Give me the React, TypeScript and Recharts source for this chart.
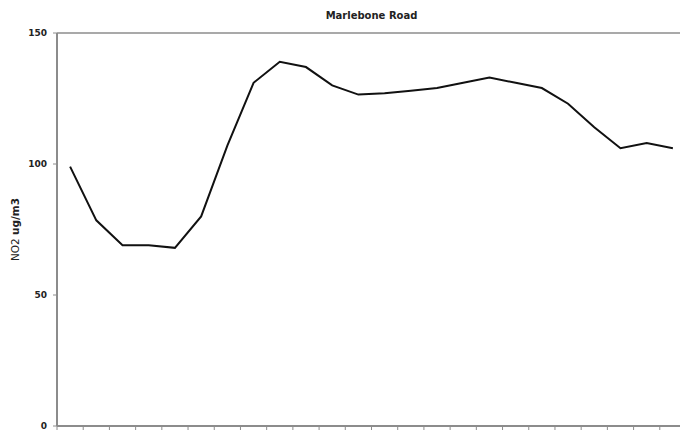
import React from 'react';
import { LineChart, Line, XAxis, YAxis, ReferenceLine } from 'recharts';

const hours = [0, 1, 2, 3, 4, 5, 6, 7, 8, 9, 10, 11, 12, 13, 14, 15, 16, 17, 18, 19, 20, 21, 22, 23];
const no2 = [99, 78.5, 69, 69, 68, 80, 107, 131, 139, 137, 130, 126.5, 127, 128, 129, 131, 133, 131, 129, 123, 114, 106, 108, 106];
const yTicks = [0, 50, 100, 150];
const title = 'Marlebone Road';

const data = hours.map((h, i) => ({ hour: h, no2: no2[i] }));
const xBoundaries = [...hours.map((h) => h - 0.5), hours[hours.length - 1] + 0.5];

const font = '"DejaVu Sans", Verdana, sans-serif';

const YLabel = (props: any) => {
  const vb = props.viewBox || { x: 0, y: 33, width: 57, height: 393 };
  const cy = vb.y + vb.height / 2;
  const cx = 15;
  return (
    <text
      x={cx}
      y={cy}
      transform={`rotate(-90 ${cx} ${cy})`}
      textAnchor="middle"
      dominantBaseline="central"
      fontFamily={font}
      fontSize={10.5}
      fill="#222"
    >
      <tspan>NO2 </tspan>
      <tspan fontWeight="bold">ug/m3</tspan>
    </text>
  );
};

export default function App() {
  return (
    <div
      style={{
        position: 'absolute',
        left: 0,
        top: 0,
        width: 680,
        height: 433,
        overflow: 'hidden',
        background: '#fff',
      }}
    >
      <div
        style={{
          position: 'absolute',
          left: 57,
          width: 629,
          top: 9,
          textAlign: 'center',
          fontFamily: font,
          fontWeight: 'bold',
          fontSize: 10,
          color: '#222',
          lineHeight: '14px',
        }}
      >
        {title}
      </div>
      <LineChart
        width={686}
        height={433}
        data={data}
        margin={{ top: 33, right: 0, bottom: 0, left: 0 }}
      >
        <ReferenceLine y={150} stroke="#8c8c8c" strokeWidth={1.5} ifOverflow="extendDomain" />
        <XAxis
          dataKey="hour"
          type="number"
          domain={[-0.5, 23.5]}
          ticks={xBoundaries}
          interval={0}
          height={7}
          tickSize={4}
          tickLine={{ stroke: '#8c8c8c', strokeWidth: 1 }}
          axisLine={{ stroke: '#8c8c8c', strokeWidth: 2 }}
          tickFormatter={() => ''}
          allowDecimals
        />
        <YAxis
          type="number"
          domain={[0, 150]}
          ticks={yTicks}
          width={57}
          tickSize={4}
          tickMargin={6}
          tickLine={{ stroke: '#8c8c8c', strokeWidth: 1 }}
          axisLine={{ stroke: '#8c8c8c', strokeWidth: 2 }}
          tick={{ fontFamily: font, fontSize: 9, fontWeight: 'bold', fill: '#222' }}
          label={<YLabel />}
        />
        <Line
          type="linear"
          dataKey="no2"
          stroke="#111"
          strokeWidth={2}
          dot={false}
          isAnimationActive={false}
        />
      </LineChart>
    </div>
  );
}
